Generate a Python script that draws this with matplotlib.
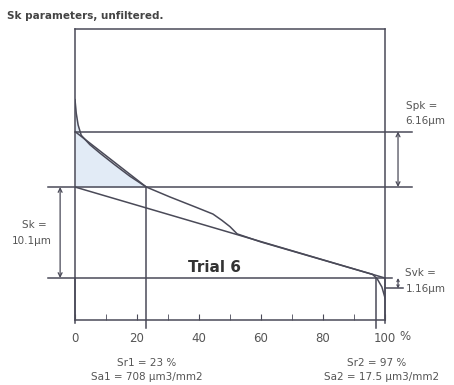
import numpy as np
import matplotlib.pyplot as plt

# Abbott-Firestone curve, Sk parameters (trial 6)
bearing = [0, 0.4, 1.0, 2.0, 4.8, 8.1, 12.9, 17.7, 23, 30.6, 38.7, 44.5, 47.4, 50, 52.3,
           60, 70, 80, 90, 96, 97.5, 99, 100]
height = [19.8, 18.3, 17.0, 15.85, 14.8, 13.85, 12.55, 11.3, 10.1, 9.0, 7.9, 7.1, 6.4, 5.7, 4.9,
          4.0, 3.0, 2.0, 1.0, 0.4, -0.1, -1.0, -2.2]

sk = 10.1
spk = 6.16
svk = 1.16
sr1 = 23
sr2 = 97
tick_pos = [0, 20, 40, 60, 80, 100]
tick_lab = ['0', '20', '40', '60', '80', '100']

W, H = 454, 385
fig = plt.figure(figsize=(W / 100, H / 100), dpi=100)
ax = fig.add_axes([75 / W, 1 - 320 / H, 310 / W, 291 / H])

lc = '#4a4a58'
tc = '#555555'
lw = 1.1

ax.set_xlim(0, 100)
ax.set_ylim(-4.66, 27.64)
for s in ax.spines.values():
    s.set_color(lc)
    s.set_linewidth(lw)

ax.set_xticks(tick_pos)
ax.set_xticklabels(tick_lab)
ax.set_xticks(np.arange(10, 100, 20), minor=True)
ax.tick_params(axis='x', which='both', direction='in', length=4, color=lc,
               labelsize=8.5, labelcolor=tc, pad=9)
ax.set_yticks([])

# shaded peak area above the core
b = np.array(bearing)
h = np.array(height)
m = b <= sr1
ax.fill_between(b[m], h[m], sk, color='#e2ebf6', lw=0)

# equivalent straight line
ax.plot([0, 100], [sk, 0], color=lc, lw=lw)
# Spk triangle hypotenuse
ax.plot([0, sr1], [sk + spk, sk], color=lc, lw=lw)
# curve
ax.plot(bearing, height, color=lc, lw=lw)

# horizontal reference lines
kw = dict(color=lc, lw=lw, clip_on=False)
ax.plot([0, 108.7], [sk + spk, sk + spk], **kw)
ax.plot([-8.7, 108.7], [sk, sk], **kw)
ax.plot([-8.7, 102.3], [0, 0], **kw)
ax.plot([100, 105.8], [-svk, -svk], **kw)

# vertical lines at Sr1, Sr2
ax.plot([sr1, sr1], [sk, -5.5], **kw)
ax.plot([sr2, sr2], [0, -5.5], **kw)
ax.plot([0, 0], [0, -5.0], **kw)
ax.plot([100, 100], [0, -5.0], **kw)

# dimension arrows
akw = dict(arrowstyle='<->', color=lc, lw=0.9, mutation_scale=7, shrinkA=0, shrinkB=0)
ax.annotate('', xy=(-4.8, 0), xytext=(-4.8, sk), arrowprops=akw, annotation_clip=False)
ax.annotate('', xy=(104.2, sk), xytext=(104.2, sk + spk), arrowprops=akw, annotation_clip=False)
ax.annotate('', xy=(104.2, -svk), xytext=(104.2, 0), arrowprops=dict(akw, mutation_scale=4),
            annotation_clip=False)


def px(x, y):
    return x / W, 1 - y / H


fs = 7.5
fig.text(*px(7, 16), 'Sk parameters, unfiltered.', fontsize=7.5, color='#444444',
         fontweight='bold', va='center', ha='left')
fig.text(*px(405, 337), '%', fontsize=8.5, color=tc, ha='center', va='center')
fig.text(*px(34, 225), 'Sk =', fontsize=fs, color=tc, ha='center', va='center')
fig.text(*px(32, 241), '10.1µm', fontsize=fs, color=tc, ha='center', va='center')
fig.text(*px(422, 106), 'Spk =', fontsize=fs, color=tc, ha='center', va='center')
fig.text(*px(425, 121), '6.16µm', fontsize=fs, color=tc, ha='center', va='center')
fig.text(*px(420, 273), 'Svk =', fontsize=fs, color=tc, ha='center', va='center')
fig.text(*px(426, 289), '1.16µm', fontsize=fs, color=tc, ha='center', va='center')
fig.text(*px(214, 268), 'Trial 6', fontsize=11, color='#333333', fontweight='bold',
         ha='center', va='center')
fig.text(*px(147, 363), 'Sr1 = 23 %', fontsize=fs, color=tc, ha='center', va='center')
fig.text(*px(147, 377), 'Sa1 = 708 µm3/mm2', fontsize=fs, color=tc, ha='center', va='center')
fig.text(*px(377, 363), 'Sr2 = 97 %', fontsize=fs, color=tc, ha='center', va='center')
fig.text(*px(382, 377), 'Sa2 = 17.5 µm3/mm2', fontsize=fs, color=tc, ha='center', va='center')

fig.savefig('out.png', dpi=100)
